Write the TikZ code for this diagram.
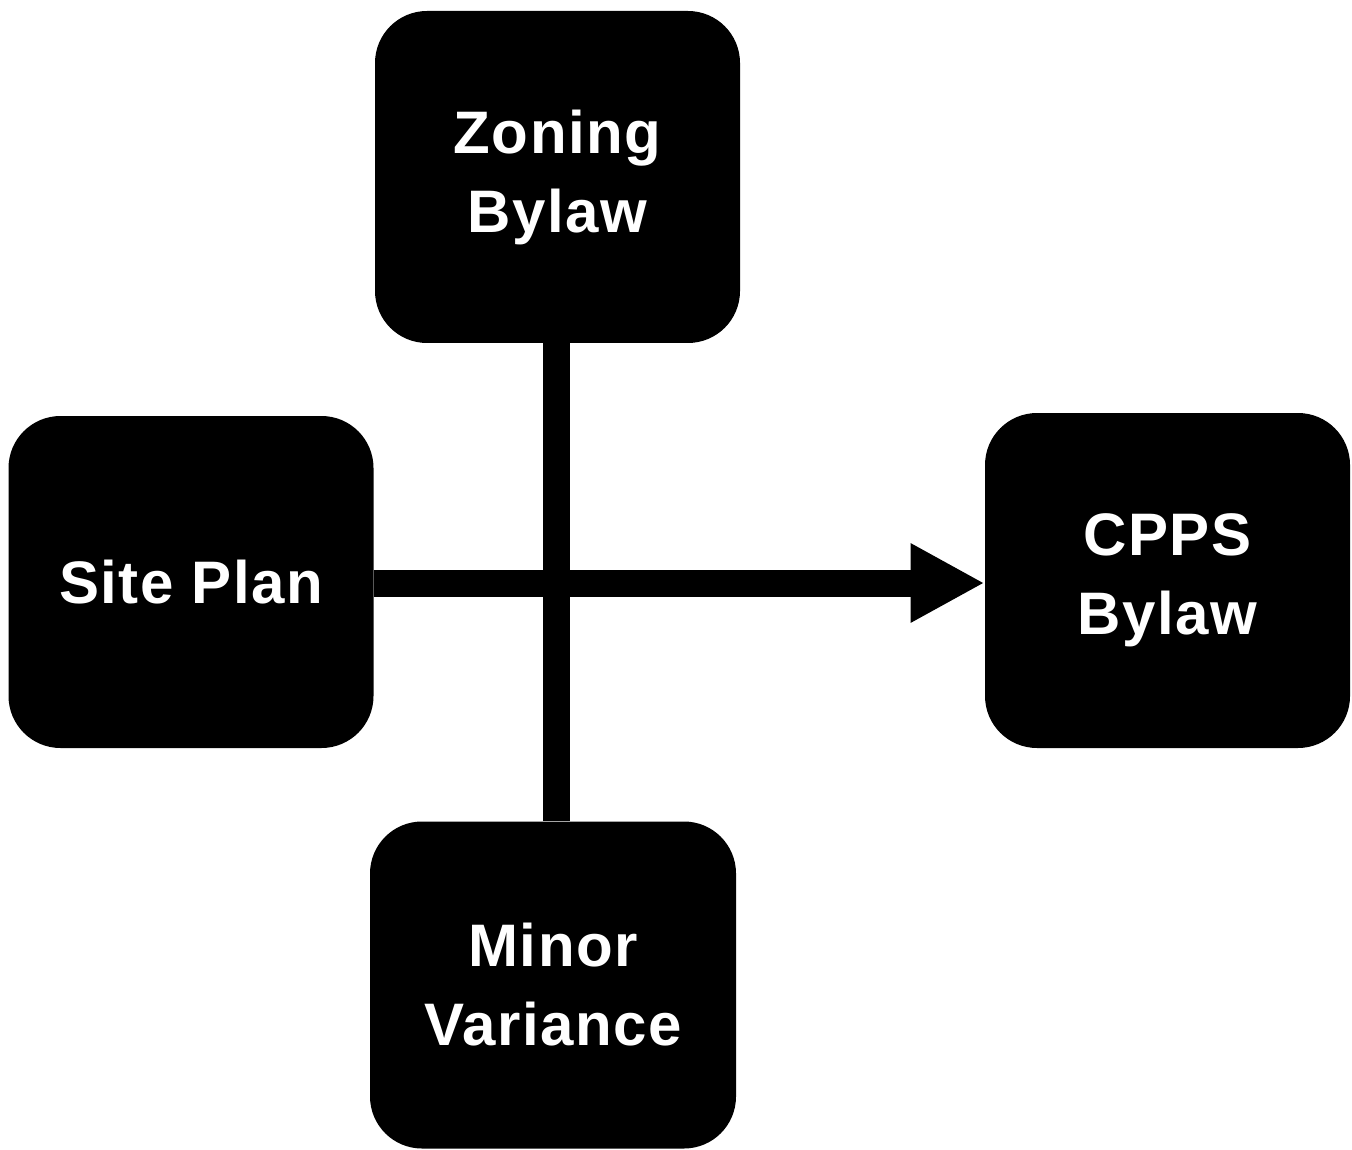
\documentclass[tikz,border=0pt]{standalone}
\usepackage{fontspec}
\setmainfont{Liberation Sans}[LetterSpace=2.5]
\usetikzlibrary{arrows.meta}
\begin{document}
\begin{tikzpicture}[x=0.5pt,y=-0.5pt,
  blackbox/.style={fill=black, text=white, rounded corners=26pt, inner sep=0pt,
    align=center, font=\fontsize{30}{39.5}\selectfont\bfseries, minimum width=182.5pt},
  conn/.style={line width=13.5pt, draw=black}]
\useasboundingbox (0,0) rectangle (1352,1149);
\node[blackbox, minimum height=166pt] (zoning) at (557.5,177) {Zoning\\Bylaw};
\node[blackbox, minimum height=166pt] (site) at (191,582) {Site Plan};
\node[blackbox, minimum height=167.5pt] (cpps) at (1167.5,580.5) {CPPS\\Bylaw};
\node[blackbox, minimum height=163.5pt, minimum width=183pt] (minor) at (553,985) {Minor\\Variance};
\draw[conn] ([xshift=-0.5pt]zoning.south) -- ([xshift=-0.5pt]zoning.south |- minor.north);
\draw[conn, -{Triangle[length=37pt,width=37pt]}] ([yshift=-0.5pt]site.east) -- ([yshift=-0.5pt]site.east -| cpps.west);
\end{tikzpicture}
\end{document}
